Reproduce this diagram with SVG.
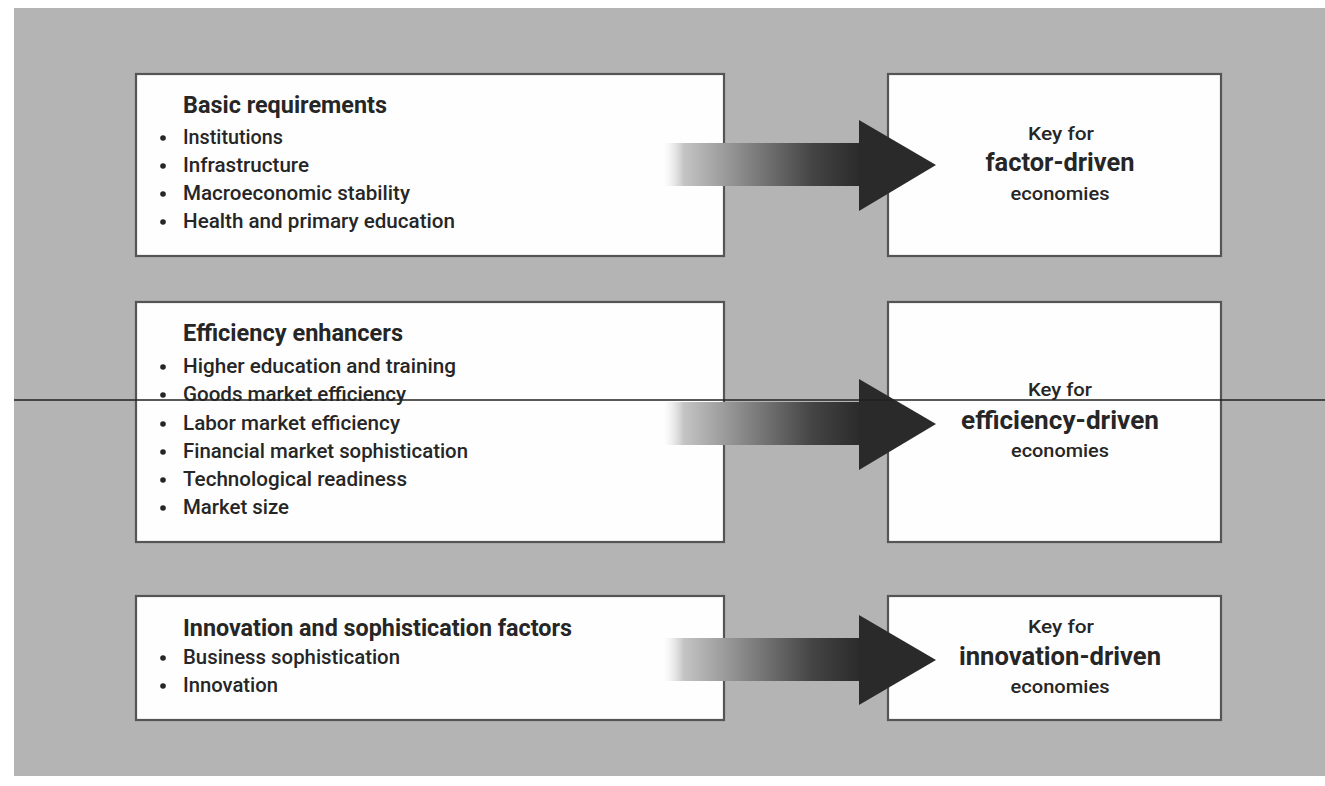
<svg xmlns="http://www.w3.org/2000/svg" width="1325" height="786" viewBox="0 0 1325 786">
<style>
.box{fill:#fefefe;stroke:#555;stroke-width:2.2}
.t{font-family:Roboto,"Liberation Sans",Arial,sans-serif;fill:#262626}
.h{font-size:23px;font-weight:bold}
.i{font-size:21px;font-weight:500}
.dot{fill:#262626}
.k{font-size:19px;font-weight:500;text-anchor:middle}
.b{font-size:25px;font-weight:bold;text-anchor:middle}
.e{font-size:19px;font-weight:500;text-anchor:middle}
.head{fill:#2a2a2a}
</style>
<defs>
<linearGradient id="g" x1="0" y1="0" x2="1" y2="0">
<stop offset="0" stop-color="#e0e0e0" stop-opacity="0"/>
<stop offset="0.1" stop-color="#c4c4c4"/>
<stop offset="0.4" stop-color="#888888"/>
<stop offset="0.75" stop-color="#444444"/>
<stop offset="1" stop-color="#2a2a2a"/>
</linearGradient>
</defs>
<rect x="0" y="0" width="1325" height="786" fill="#ffffff"/>
<rect x="14" y="8" width="1311" height="768" fill="#b4b4b4"/>

<g id="basic">
<rect class="box" x="136" y="74" width="588" height="182"/>
<text class="t h" x="183" y="113" textLength="204" lengthAdjust="spacingAndGlyphs">Basic requirements</text>
<g class="dot">
<circle cx="163" cy="138" r="2.8"/><circle cx="163" cy="166" r="2.8"/><circle cx="163" cy="194" r="2.8"/><circle cx="163" cy="222" r="2.8"/>
</g>
<g class="t i">
<text x="183" y="144" textLength="100" lengthAdjust="spacingAndGlyphs">Institutions</text>
<text x="183" y="172" textLength="126" lengthAdjust="spacingAndGlyphs">Infrastructure</text>
<text x="183" y="200" textLength="227" lengthAdjust="spacingAndGlyphs">Macroeconomic stability</text>
<text x="183" y="228" textLength="272" lengthAdjust="spacingAndGlyphs">Health and primary education</text>
</g>
</g>

<g id="factor">
<rect class="box" x="888" y="74" width="333" height="182"/>
<text class="t k" x="1061" y="140" textLength="66" lengthAdjust="spacingAndGlyphs">Key for</text>
<text class="t b" x="1060" y="171" textLength="149" lengthAdjust="spacingAndGlyphs">factor-driven</text>
<text class="t e" x="1060" y="200" textLength="99" lengthAdjust="spacingAndGlyphs">economies</text>
</g>

<g id="efficiency">
<rect class="box" x="136" y="302" width="588" height="240"/>
<text class="t h" x="183" y="341" textLength="220" lengthAdjust="spacingAndGlyphs">Efficiency enhancers</text>
<g class="dot">
<circle cx="163" cy="367" r="2.8"/><circle cx="163" cy="395" r="2.8"/><circle cx="163" cy="424" r="2.8"/><circle cx="163" cy="452" r="2.8"/><circle cx="163" cy="480" r="2.8"/><circle cx="163" cy="508" r="2.8"/>
</g>
<g class="t i">
<text x="183" y="373" textLength="273" lengthAdjust="spacingAndGlyphs">Higher education and training</text>
<text x="183" y="401" textLength="223" lengthAdjust="spacingAndGlyphs">Goods market efficiency</text>
<text x="183" y="430" textLength="217" lengthAdjust="spacingAndGlyphs">Labor market efficiency</text>
<text x="183" y="458" textLength="285" lengthAdjust="spacingAndGlyphs">Financial market sophistication</text>
<text x="183" y="486" textLength="224" lengthAdjust="spacingAndGlyphs">Technological readiness</text>
<text x="183" y="514" textLength="106" lengthAdjust="spacingAndGlyphs">Market size</text>
</g>
</g>

<g id="effdriven">
<rect class="box" x="888" y="302" width="333" height="240"/>
<text class="t k" x="1060" y="396" textLength="64" lengthAdjust="spacingAndGlyphs">Key for</text>
<text class="t b" x="1060" y="429" textLength="198" lengthAdjust="spacingAndGlyphs">efficiency-driven</text>
<text class="t e" x="1060" y="457" textLength="98" lengthAdjust="spacingAndGlyphs">economies</text>
</g>

<g id="innovation">
<rect class="box" x="136" y="596" width="588" height="124"/>
<text class="t h" x="183" y="636" textLength="389" lengthAdjust="spacingAndGlyphs">Innovation and sophistication factors</text>
<g class="dot">
<circle cx="163" cy="658" r="2.8"/><circle cx="163" cy="686" r="2.8"/>
</g>
<g class="t i">
<text x="183" y="664" textLength="217" lengthAdjust="spacingAndGlyphs">Business sophistication</text>
<text x="183" y="692" textLength="95" lengthAdjust="spacingAndGlyphs">Innovation</text>
</g>
</g>

<g id="innovdriven">
<rect class="box" x="888" y="596" width="333" height="124"/>
<text class="t k" x="1061" y="633" textLength="66" lengthAdjust="spacingAndGlyphs">Key for</text>
<text class="t b" x="1060" y="665" textLength="202" lengthAdjust="spacingAndGlyphs">innovation-driven</text>
<text class="t e" x="1060" y="693" textLength="99" lengthAdjust="spacingAndGlyphs">economies</text>
</g>

<g id="connectors">
<rect x="664" y="143" width="198" height="43" fill="url(#g)"/>
<polygon class="head" points="859,120 936,165 859,211"/>
<rect x="664" y="402" width="198" height="43" fill="url(#g)"/>
<polygon class="head" points="859,379 936,424 859,470"/>
<rect x="664" y="638" width="198" height="43" fill="url(#g)"/>
<polygon class="head" points="859,615 936,660 859,705"/>
</g>

<line x1="14" y1="400" x2="1325" y2="400" stroke="#222" stroke-width="1.3"/>
</svg>
